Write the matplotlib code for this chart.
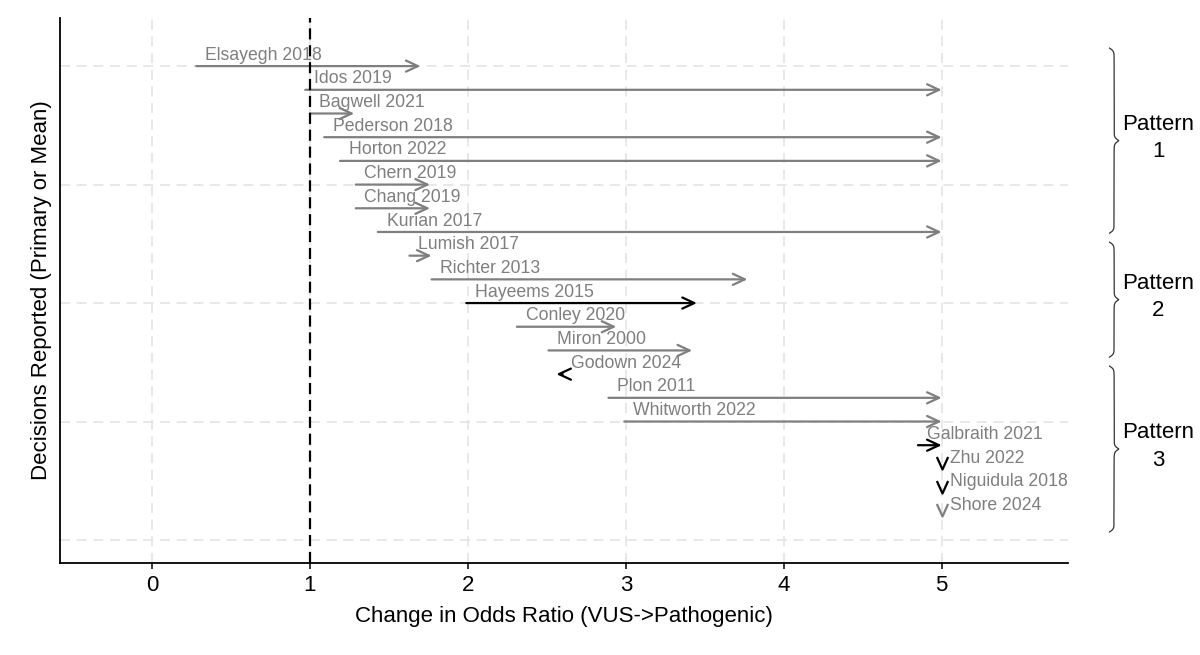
import numpy as np
import matplotlib.pyplot as plt
from matplotlib.path import Path

plt.rcParams['font.family'] = ['Liberation Sans', 'DejaVu Sans']

# studies, top to bottom
studies = ["Elsayegh 2018", "Idos 2019", "Bagwell 2021", "Pederson 2018", "Horton 2022",
           "Chern 2019", "Chang 2019", "Kurian 2017", "Lumish 2017", "Richter 2013",
           "Hayeems 2015", "Conley 2020", "Miron 2000", "Godown 2024", "Plon 2011",
           "Whitworth 2022", "Galbraith 2021", "Zhu 2022", "Niguidula 2018", "Shore 2024"]
or_start = [0.28, 0.97, 1.00, 1.09, 1.19, 1.29, 1.29, 1.43, 1.63, 1.77,
            1.99, 2.31, 2.51, 2.60, 2.89, 2.99, 4.85, 5.00, 5.00, 5.00]
or_end = [1.70, 5.00, 1.28, 5.00, 5.00, 1.76, 1.76, 5.00, 1.77, 3.77,
          3.45, 2.94, 3.42, 2.56, 5.00, 5.00, 5.00, 5.00, 5.00, 5.00]
black_studies = ["Hayeems 2015", "Godown 2024", "Galbraith 2021", "Zhu 2022", "Niguidula 2018"]

pattern_labels = ["Pattern\n1", "Pattern\n2", "Pattern\n3"]
# brace extents (top, bottom) in row units
brace_spans = [(20.76, 12.95), (12.57, 7.72), (7.34, 0.34)]

n = len(studies)
ypos = np.arange(n, 0, -1)

fig = plt.figure(figsize=(12, 6.55), dpi=100)
ax = fig.add_axes([0.05, 0.1405, 0.84, 0.832])

gray = "#7f7f7f"
vhead = Path([(-0.45, 1.0), (0.0, 0.0), (0.45, 1.0)],
             [Path.MOVETO, Path.LINETO, Path.LINETO])

for name, x0, x1, y in zip(studies, or_start, or_end, ypos):
    col = "black" if name in black_studies else gray
    if x0 == x1:
        # no change: only a head pointing down
        ax.plot([x1], [y], marker=vhead, markersize=18, mec=col, mfc="none",
                mew=1.6, linestyle="none")
    else:
        ax.annotate("", xy=(x1, y), xytext=(x0, y),
                    arrowprops=dict(arrowstyle="->,head_length=0.43,head_width=0.2",
                                    color=col, lw=1.6, shrinkA=0, shrinkB=0,
                                    mutation_scale=20))
    ax.text(x0 + 0.055, y + 0.46, name, color=gray, fontsize=12.7,
            ha="left", va="center", zorder=3)

ax.axvline(1, color="black", lw=1.6, linestyle=(0, (5, 2.6)), zorder=5)

ax.set_xlim(-0.583, 5.80)
ax.set_ylim(-0.97, 22.03)
ax.set_xticks([0, 1, 2, 3, 4, 5])
ax.set_yticks([0, 5, 10, 15, 20])
ax.tick_params(axis="x", labelsize=16, length=4, width=1.1, pad=5)
ax.tick_params(axis="y", left=False, labelleft=False)
ax.grid(True, color="#e4e4e4", linestyle=(0, (6, 4)), lw=1.2)
ax.set_axisbelow(True)
for s in ["top", "right"]:
    ax.spines[s].set_visible(False)
for s in ["left", "bottom"]:
    ax.spines[s].set_linewidth(1.3)

ax.set_xlabel("Change in Odds Ratio (VUS->Pathogenic)", fontsize=16, labelpad=7)
ax.set_ylabel("Decisions Reported (Primary or Mean)", fontsize=16, labelpad=6)


def draw_brace(ax, y_top, y_bot, x_base, width):
    half = np.linspace(0, 0.5, 300)
    beta = 16.0 * abs(y_top - y_bot)
    f = 1 / (1 + np.exp(-beta * (half - half[0]))) + 1 / (1 + np.exp(-beta * (half - half[-1])))
    f = np.concatenate((f, f[::-1]))
    yy = np.linspace(y_top, y_bot, len(f))
    xx = x_base + (f - 0.5) * width
    ax.plot(xx, yy, color="#333333", lw=0.9, clip_on=False)


for lab, (top, bot) in zip(pattern_labels, brace_spans):
    draw_brace(ax, top, bot, 6.063, 0.058)
    ax.text(6.37, (top + bot) / 2 + 0.1, lab, fontsize=16, ha="center", va="center",
            linespacing=1.4, clip_on=False)

fig.savefig("out.png", dpi=100)
